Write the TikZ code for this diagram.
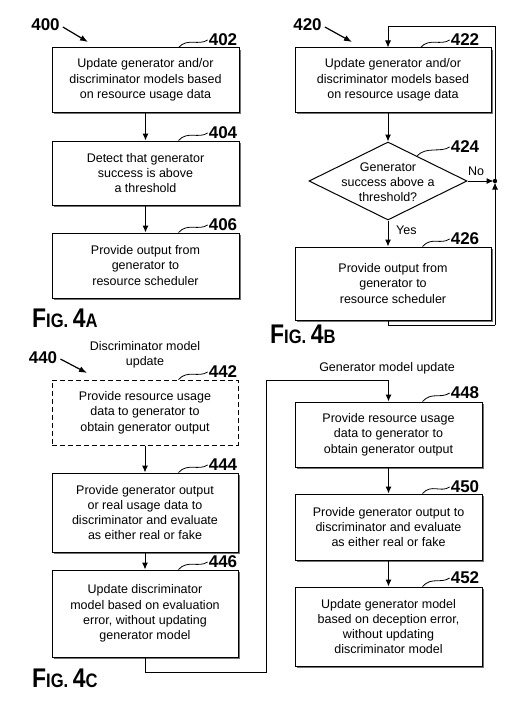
\documentclass[tikz,border=0pt]{standalone}
\usepackage{fontspec}
\setmainfont{Liberation Sans}
\usetikzlibrary{shapes.geometric,arrows.meta,shadows}
\newcommand{\figlab}[2]{\scalebox{0.85}[1]{\bfseries\fontsize{27}{27}\selectfont F\fontsize{19.5}{19.5}\selectfont IG. \fontsize{27}{27}\selectfont #1\fontsize{19.5}{19.5}\selectfont #2}}
\begin{document}
\begin{tikzpicture}[x=1pt,y=-1pt,
  box/.style={draw, line width=1pt, fill=white, align=center, inner sep=0pt,
    font=\fontsize{12.5}{15.3}\selectfont,
    drop shadow={shadow xshift=1.6pt, shadow yshift=-1.6pt, fill=black!55, opacity=1}},
  dbox/.style={draw, dashed, dash pattern=on 5pt off 3pt, line width=1pt, fill=white, align=center, inner sep=0pt,
    font=\fontsize{12.5}{15.3}\selectfont},
  txt/.style={align=center, inner sep=0pt, font=\fontsize{12.5}{15.3}\selectfont},
  num/.style={inner sep=1pt, font=\fontsize{17}{17}\selectfont\bfseries},
  ref/.style={inner sep=1pt, font=\fontsize{17}{17}\selectfont\bfseries},
  figl/.style={inner sep=0pt, anchor=base west},
  arr/.style={draw, line width=1pt, -{Latex[length=7pt,width=6pt]}},
  line/.style={draw, line width=1pt},
  lead/.style={draw, line width=0.8pt},
  refarr/.style={draw, line width=1.2pt, -{Latex[length=8pt,width=6pt]}}
]
\useasboundingbox (0,0) rectangle (522,709);

% ---------------- FIG 4A ----------------
\node[ref] (r400) at (45.5,25) {400};
\coordinate (r400e) at (88,42);
\draw[refarr] (r400.east) ++(2,2) -- (r400e);

\node[box, minimum width=187pt, minimum height=64pt] (b402) at (145.5,80)
  {Update generator and/or\\discriminator models based\\on resource usage data};
\node[box, minimum width=187pt, minimum height=64pt] (b404) at (145.5,173)
  {Detect that generator\\success is above\\a threshold};
\node[box, minimum width=187pt, minimum height=65pt] (b406) at (145.5,265.5)
  {Provide output from\\generator to\\resource scheduler};
\draw[arr] (b402.south) -- (b404.north);
\draw[arr] (b404.south) -- (b406.north);

\node[num] (n402) at (223,40) {402};
\node[num] (n404) at (223,133) {404};
\node[num] (n406) at (223,225) {406};
\draw[lead] ([xshift=-61pt]b402.north east) .. controls +(9,-10) and +(-9,6) .. (n402.west);
\draw[lead] ([xshift=-61pt]b404.north east) .. controls +(9,-10) and +(-9,6) .. (n404.west);
\draw[lead] ([xshift=-61pt]b406.north east) .. controls +(9,-10) and +(-9,6) .. (n406.west);

\node[figl] (f4a) at (32,327) {\figlab{4}{A}};

% ---------------- FIG 4B ----------------
\node[ref] (r420) at (307.5,25) {420};
\coordinate (r420e) at (352,42);
\draw[refarr] (r420.east) ++(2,2) -- (r420e);

\node[box, minimum width=196pt, minimum height=64pt] (b422) at (393,80)
  {Update generator and/or\\discriminator models based\\on resource usage data};
\node[draw, diamond, line width=1pt, fill=white, minimum width=158pt, minimum height=78pt, inner sep=0pt] (d424) at (388,181) {};
\node[txt] (t424) at (388,182) {Generator\\success above a\\threshold?};
\node[box, minimum width=196pt, minimum height=73pt] (b426) at (393,283.5)
  {Provide output from\\generator to\\resource scheduler};

\draw[arr] (b422.south -| d424.north) -- (d424.north);
\draw[arr] (d424.south) -- (b426.north -| d424.south);
\node[txt, anchor=west] (yes) at (396,230) {Yes};

\coordinate (j) at (495,181);
\fill (j) circle (2.2pt);
\draw[arr, shorten >=1.5pt] (d424.east) -- (j);
\node[txt, anchor=south] (no) at (476,176) {No};
\coordinate (lb1) at (388,325);
\coordinate (lb2) at (495,325);
\draw[line] (b426.south -| d424.south) -- (lb1) -- (lb2);
\draw[arr, shorten >=1.5pt] (lb2) -- (j);
\coordinate (lt1) at (495,27);
\coordinate (lt2) at (388,27);
\draw[line] (j) -- (lt1) -- (lt2);
\draw[arr] (lt2) -- (b422.north -| d424.north);

\node[num] (n422) at (465,40) {422};
\node[num] (n424) at (465,147) {424};
\node[num] (n426) at (465,239) {426};
\draw[lead] ([xshift=-71pt]b422.north east) .. controls +(9,-10) and +(-9,6) .. (n422.west);
\coordinate (d424e) at (417,156);
\draw[lead] (d424e) .. controls +(9,-10) and +(-9,6) .. (n424.west);
\draw[lead] ([xshift=-69pt]b426.north east) .. controls +(9,-10) and +(-9,6) .. (n426.west);

\node[figl] (f4b) at (270,343) {\figlab{4}{B}};

% ---------------- FIG 4C ----------------
\node[txt] (h440) at (145,355) {Discriminator model\\update};
\node[ref] (r440) at (43,358) {440};
\coordinate (r440e) at (87,373);
\draw[refarr] (r440.east) ++(2,1) -- (r440e);

\node[dbox, minimum width=186pt, minimum height=65pt] (b442) at (145,412.5)
  {Provide resource usage\\data to generator to\\obtain generator output};
\node[box, minimum width=186pt, minimum height=79pt] (b444) at (145,512.5)
  {Provide generator output\\or real usage data to\\discriminator and evaluate\\as either real or fake};
\node[box, minimum width=186pt, minimum height=87pt] (b446) at (145,613.5)
  {Update discriminator\\model based on evaluation\\error, without updating\\generator model};
\draw[arr] (b442.south) -- (b444.north);
\draw[arr] (b444.south) -- (b446.north);

\node[num] (n442) at (223,372) {442};
\node[num] (n444) at (223,465) {444};
\node[num] (n446) at (223,562) {446};
\draw[lead] ([xshift=-60pt]b442.north east) .. controls +(9,-10) and +(-9,6) .. (n442.west);
\draw[lead] ([xshift=-60pt]b444.north east) .. controls +(9,-10) and +(-9,6) .. (n444.west);
\draw[lead] ([xshift=-60pt]b446.north east) .. controls +(9,-10) and +(-9,6) .. (n446.west);

\node[figl] (f4c) at (32,687) {\figlab{4}{C}};

% Generator model update
\node[txt] (h448) at (387,368) {Generator model update};
\node[box, minimum width=187pt, minimum height=65pt] (b448) at (388.5,434.5)
  {Provide resource usage\\data to generator to\\obtain generator output};
\node[box, minimum width=187pt, minimum height=66pt] (b450) at (388.5,527)
  {Provide generator output to\\discriminator and evaluate\\as either real or fake};
\node[box, minimum width=187pt, minimum height=79pt] (b452) at (388.5,626.5)
  {Update generator model\\based on deception error,\\without updating\\discriminator model};
\draw[arr] (b448.south) -- (b450.north);
\draw[arr] (b450.south) -- (b452.north);

\node[num] (n448) at (465,393) {448};
\node[num] (n450) at (465,487) {450};
\node[num] (n452) at (465,578) {452};
\draw[lead] ([xshift=-60pt]b448.north east) .. controls +(9,-10) and +(-9,6) .. (n448.west);
\draw[lead] ([xshift=-60pt]b450.north east) .. controls +(9,-10) and +(-9,6) .. (n450.west);
\draw[lead] ([xshift=-60pt]b452.north east) .. controls +(9,-10) and +(-9,6) .. (n452.west);

\coordinate (c1) at (145,672);
\coordinate (c2) at (266,672);
\coordinate (c3) at (266,380);
\coordinate (c4) at (388.5,380);
\draw[line] (b446.south) -- (c1) -- (c2) -- (c3) -- (c4);
\draw[arr] (c4) -- (b448.north);

\end{tikzpicture}
\end{document}
